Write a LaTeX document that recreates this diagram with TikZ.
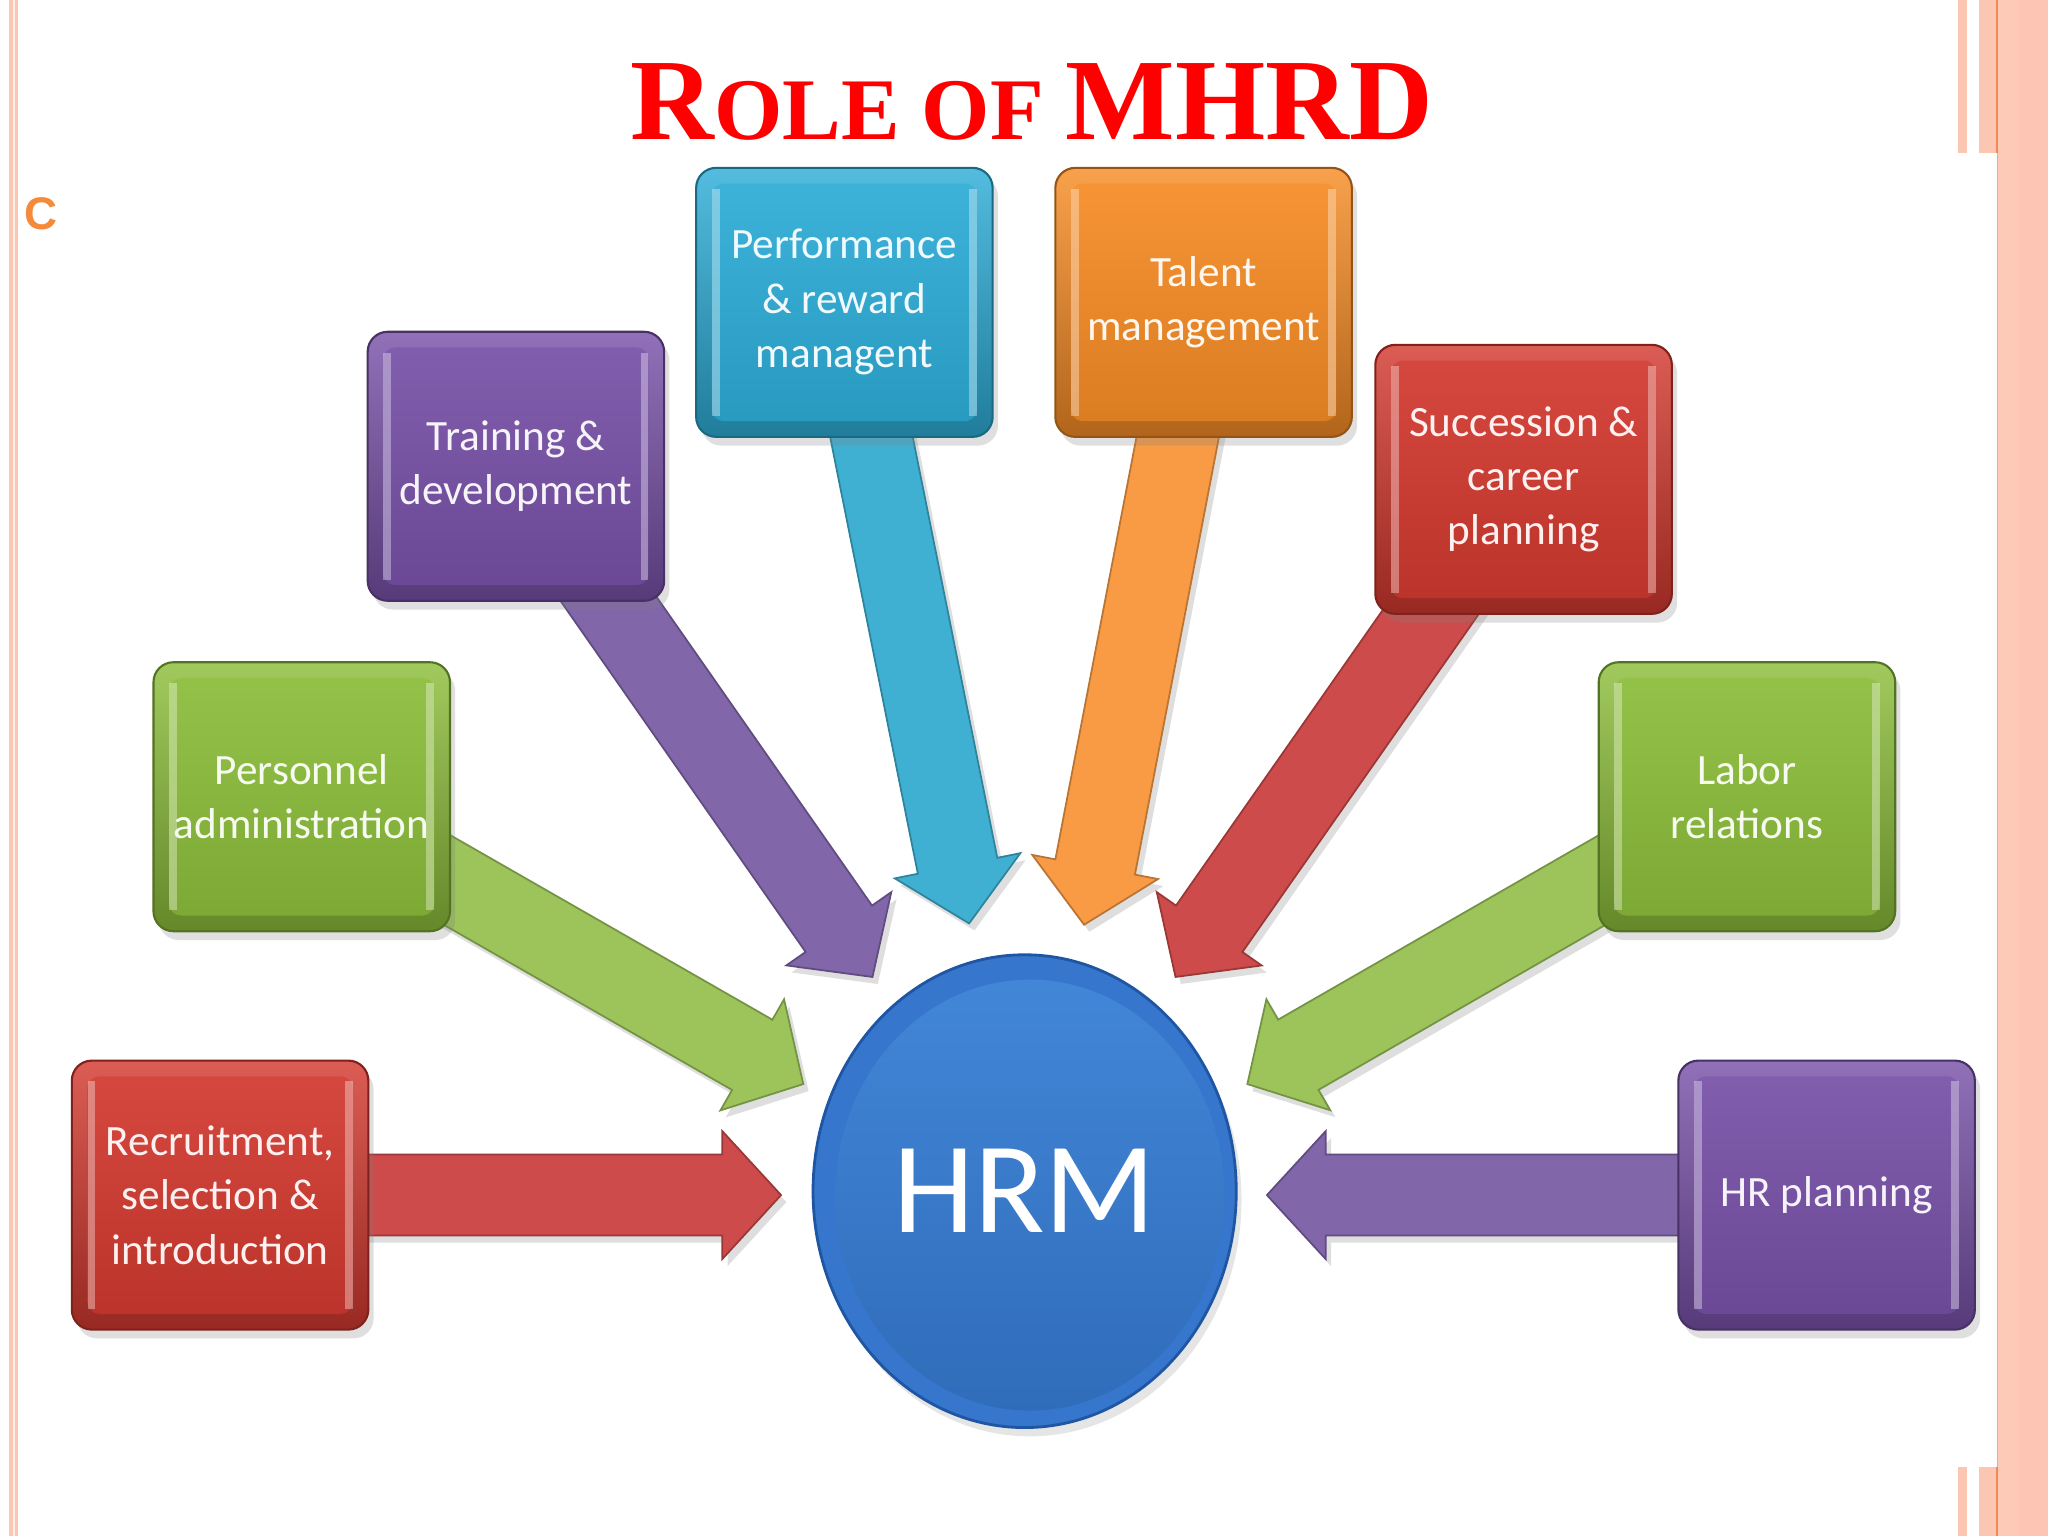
\documentclass[tikz,border=0pt]{standalone}
\usepackage{fontspec}
\setmainfont{Liberation Serif}
\newfontfamily\boxfont{Carlito}
\newfontfamily\sansbold{Liberation Sans}
\usetikzlibrary{calc,shapes.geometric,shadows,backgrounds}
\definecolor{redB}{HTML}{D3392F}
\definecolor{greenB}{HTML}{8CBE3A}
\definecolor{purpB}{HTML}{7851A8}
\definecolor{cyanB}{HTML}{2DADD8}
\definecolor{orangeB}{HTML}{F78C25}
\definecolor{redA}{HTML}{CD4B4A}
\definecolor{greenA}{HTML}{9CC45A}
\definecolor{purpA}{HTML}{8166AA}
\definecolor{cyanA}{HTML}{3FB0D2}
\definecolor{orangeA}{HTML}{F89B44}
\definecolor{hrmrim}{HTML}{3676CC}
\definecolor{hrmdark}{HTML}{1F56A3}
\definecolor{hrmtop}{HTML}{4388D9}
\definecolor{hrmbot}{HTML}{2F6BB9}
\definecolor{titlered}{HTML}{FF0000}
\definecolor{corange}{HTML}{F58A3A}
\definecolor{bord}{HTML}{FBC6B2}
\definecolor{band}{HTML}{FDC5B3}
\definecolor{bandL}{HTML}{FCCAB6}
\definecolor{bandline}{HTML}{F08A55}
\newcommand\arrowpath[2]{($(#1)!0.405cm!90:(#2)$) -- ($(#2h)!0.405cm!90:(#2)$) -- ($(#2h)!0.64cm!90:(#2)$) -- (#2) -- ($(#2h)!0.64cm!-90:(#2)$) -- ($(#2h)!0.405cm!-90:(#2)$) -- ($(#1)!0.405cm!-90:(#2)$) -- cycle}
\newcommand\blockarrow[3]{%
  \coordinate (#2h) at ($(#2)!0.588cm!(#1)$);
  \fill[black, opacity=.13, transform canvas={xshift=1.5pt, yshift=-2pt}] \arrowpath{#1}{#2};
  \filldraw[fill=#3, draw=#3!75!black, line width=.5pt] \arrowpath{#1}{#2};
}
\begin{document}
\begin{tikzpicture}[x=0.01306cm, y=-0.01306cm,
  box/.style={rectangle, rounded corners=0.2cm, minimum width=2.965cm, minimum height=2.69cm,
    inner sep=0pt, align=center, draw=#1!60!black, line width=0.6pt,
    top color=#1!82!white, bottom color=#1!72!black, text=white!93!#1,
    font=\boxfont\fontsize{12.3}{15.5}\selectfont,
    drop shadow={shadow xshift=1.5pt, shadow yshift=-2.5pt, opacity=.25},
    path picture={
      \shade[top color=#1!92!white, bottom color=#1!88!black, rounded corners=0.12cm]
        ([shift={(12,12)}]path picture bounding box.north west) rectangle
        ([shift={(-12,-12)}]path picture bounding box.south east);
      \fill[white, opacity=.35, sharp corners]
        ([shift={(12,16)}]path picture bounding box.north west) rectangle
        ([shift={(18,-16)}]path picture bounding box.south west);
      \fill[white, opacity=.35, sharp corners]
        ([shift={(-18,16)}]path picture bounding box.north east) rectangle
        ([shift={(-12,-16)}]path picture bounding box.south east);
    }},
]
\useasboundingbox (0,0) rectangle (1568,1176);

% title and bullet
\node[anchor=base, text=titlered, font=\bfseries, inner sep=0pt] (title) at (790,107)
  {\fontsize{33}{36}\selectfont R\fontsize{25}{30}\selectfont OLE OF \fontsize{33}{36}\selectfont MHRD};
\node[anchor=base west, text=corange, font=\sansbold\bfseries\fontsize{13}{15}\selectfont, inner sep=0pt] (bullet) at (18,176) {C};

% boxes
\node[box=redB] (rec) at (168.5,915) {Recruitment,\\selection \&\\introduction};
\node[box=greenB] (pers) at (231,610) {Personnel\\administration};
\node[box=purpB] (train) at (395,357) {Training \&\\development};
\node[box=cyanB] (perf) at (646.5,231.5) {Performance\\\& reward\\managent};
\node[box=orangeB] (tal) at (921.5,231.5) {Talent\\management};
\node[box=redB] (succ) at (1166.5,367) {Succession \&\\career\\planning};
\node[box=greenB] (lab) at (1337.5,610) {Labor\\relations};
\node[box=purpB] (hrp) at (1398.5,915) {HR planning};

% centre
\node[ellipse, minimum width=4.232cm, minimum height=4.728cm, inner sep=0pt,
  fill=hrmrim, draw=hrmdark, line width=0.8pt, text=white,
  font=\boxfont\fontsize{37}{40}\selectfont,
  drop shadow={shadow xshift=1.5pt, shadow yshift=-2.5pt, opacity=.2},
  path picture={\shade[top color=hrmtop, bottom color=hrmbot]
    ([shift={(4,3)}]path picture bounding box.center) ellipse [x radius=1.946cm, y radius=2.155cm];}]
  (hrm) at (784.5,912) {HRM};

% arrow tips
\coordinate (t1) at (598,915);
\coordinate (t2) at (615,830);
\coordinate (t3) at (668,748);
\coordinate (t4) at (742,707);
\coordinate (t5) at (830,708);
\coordinate (t6) at (900,748);
\coordinate (t7) at (955,830);
\coordinate (t8) at (970,915);

\begin{pgfonlayer}{background}
  \fill[white] (0,0) rectangle (1568,1176);
  % left border
  \fill[bord] (7,0) rectangle (14,1176);
  \fill[white!70!bord] (10,0) rectangle (11.2,1176);
  % right border
  \fill[bandL] (1529,0) rectangle (1545,1176);
  \fill[band] (1545,0) rectangle (1568,1176);
  \fill[bord] (1499,0) rectangle (1506,117);
  \fill[bord] (1515,0) rectangle (1529,117);
  \fill[bord] (1499,1123) rectangle (1506,1176);
  \fill[bord] (1515,1123) rectangle (1529,1176);
  \draw[bandline, line width=0.5pt] (1528.8,0) -- (1528.8,117);
  \draw[bandline, line width=0.5pt] (1528.8,1123) -- (1528.8,1176);
  \draw[bandline!50!band, line width=0.3pt] (1529,117) -- (1529,1123);
  % arrows
  \blockarrow{rec}{t1}{redA}
  \blockarrow{pers}{t2}{greenA}
  \blockarrow{train}{t3}{purpA}
  \blockarrow{perf}{t4}{cyanA}
  \blockarrow{tal}{t5}{orangeA}
  \blockarrow{succ}{t6}{redA}
  \blockarrow{lab}{t7}{greenA}
  \blockarrow{hrp}{t8}{purpA}
\end{pgfonlayer}
\end{tikzpicture}
\end{document}
